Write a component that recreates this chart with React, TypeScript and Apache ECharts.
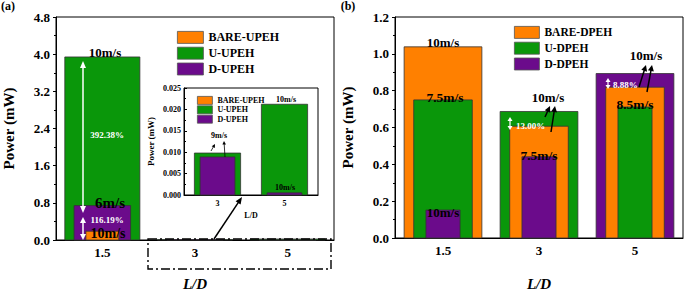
import React, { useEffect, useRef } from 'react';
import * as echarts from 'echarts';

// ---------- data ----------
const categories = ['1.5', '3', '5'];
const insetCategories = ['3', '5'];
const bareUPEH = [0.19, 0, 0];
const uUPEH = [3.94, 0.0098, 0.0212];
const dUPEH = [0.74, 0.0089, 0.0005];
const bareDPEH = [1.038, 0.607, 0.819];
const uDPEH = [0.75, 0.687, 0.711];
const dDPEH = [0.152, 0.441, 0.893];
const insetBare = bareUPEH.slice(1);
const insetU = uUPEH.slice(1);
const insetD = dUPEH.slice(1);

// ---------- styles ----------
const FONT = '"Liberation Serif", "Times New Roman", serif';
const ORANGE = '#FF8000';
const GREEN = '#0A970A';
const PURPLE = '#6B0B8B';
const EDGE = '#333';

function rankOf(groups: number[][], s: number, i: number) {
  const v = groups[s][i];
  let r = 0;
  groups.forEach((g, k) => {
    if (k !== s && (g[i] > v || (g[i] === v && k < s))) r++;
  });
  return r;
}

function makeBar(name: string, color: string, groups: number[][], s: number, axis: number, widths: number[]) {
  return {
    type: 'custom',
    name,
    xAxisIndex: axis,
    yAxisIndex: axis,
    itemStyle: { color, borderColor: EDGE, borderWidth: 0.8 },
    data: groups[s].map((v, i) => [i, v]),
    encode: { x: 0, y: 1 },
    renderItem: (params: any, api: any) => {
      const i = params.dataIndex;
      const v = api.value(1);
      if (!(v > 0)) return null;
      const r = rankOf(groups, s, i);
      const base = api.coord([i, 0]);
      const top = api.coord([i, v]);
      const band = api.size([1, 0])[0];
      const w = band * widths[r];
      return {
        type: 'rect',
        z2: r,
        shape: { x: base[0] - w / 2, y: top[1], width: w, height: base[1] - top[1] },
        style: { fill: color, stroke: EDGE, lineWidth: 0.8 },
      };
    },
  };
}

function txt(text: string, x: number, y: number, size: number, color = '#000', align = 'center') {
  return {
    type: 'text',
    x,
    y,
    z: 100,
    style: {
      text,
      fill: color,
      fontSize: size,
      fontWeight: 'bold',
      fontFamily: FONT,
      align,
      verticalAlign: 'middle',
      textAlign: align,
      textVerticalAlign: 'middle',
    },
  };
}

function head(x1: number, y1: number, x2: number, y2: number, len: number, hw: number, color: string) {
  const dx = x2 - x1;
  const dy = y2 - y1;
  const d = Math.sqrt(dx * dx + dy * dy);
  const ux = dx / d;
  const uy = dy / d;
  const bx = x2 - ux * len;
  const by = y2 - uy * len;
  return {
    type: 'polygon',
    z: 100,
    shape: { points: [[x2, y2], [bx - uy * hw, by + ux * hw], [bx + uy * hw, by - ux * hw]] },
    style: { fill: color },
  };
}

function arrow(x1: number, y1: number, x2: number, y2: number, color: string, lw: number, len: number, hw: number, both = false) {
  const dx = x2 - x1;
  const dy = y2 - y1;
  const d = Math.sqrt(dx * dx + dy * dy);
  const sx = both ? x1 + (dx / d) * len * 0.8 : x1;
  const sy = both ? y1 + (dy / d) * len * 0.8 : y1;
  const ex = x2 - (dx / d) * len * 0.8;
  const ey = y2 - (dy / d) * len * 0.8;
  const els: any[] = [
    { type: 'line', z: 100, shape: { x1: sx, y1: sy, x2: ex, y2: ey }, style: { stroke: color, lineWidth: lw } },
    head(x1, y1, x2, y2, len, hw, color),
  ];
  if (both) els.push(head(x2, y2, x1, y1, len, hw, color));
  return { type: 'group', children: els };
}

function xAxisBase(gridIndex: number, data: string[], size: number, margin: number, name: string, nameGap: number, nameSize: number, italic: boolean) {
  return {
    type: 'category',
    gridIndex,
    data,
    axisLine: { lineStyle: { color: '#000', width: 1 } },
    axisTick: { inside: true, alignWithLabel: true, length: 4, lineStyle: { color: '#000' } },
    axisLabel: { color: '#000', fontSize: size, fontWeight: 'bold', fontFamily: FONT, margin },
    name,
    nameLocation: 'middle',
    nameGap,
    nameTextStyle: { color: '#000', fontSize: nameSize, fontWeight: 'bold', fontStyle: italic ? 'italic' : 'normal', fontFamily: FONT },
    splitLine: { show: false },
  };
}

function yAxisBase(gridIndex: number, max: number, interval: number, digits: number, size: number, margin: number, nameGap: number, nameSize: number, inside: boolean) {
  return {
    type: 'value',
    gridIndex,
    min: 0,
    max,
    interval,
    axisLine: { show: true, lineStyle: { color: '#000', width: 1 } },
    axisTick: { show: true, inside, length: 3, lineStyle: { color: '#000' } },
    minorTick: { show: true, splitNumber: 2, length: 2, lineStyle: { color: '#000' } },
    splitLine: { show: false },
    axisLabel: {
      color: '#000',
      fontSize: size,
      fontWeight: 'bold',
      fontFamily: FONT,
      margin,
      formatter: (v: number) => v.toFixed(digits),
    },
    name: 'Power (mW)',
    nameLocation: 'middle',
    nameGap,
    nameTextStyle: { color: '#000', fontSize: nameSize, fontWeight: 'bold', fontFamily: FONT },
  };
}

function legend(names: string[], left: number, top: number, w: number, h: number, gap: number, size: number) {
  return {
    data: names,
    orient: 'vertical',
    left,
    top,
    padding: 0,
    itemWidth: w,
    itemHeight: h,
    itemGap: gap,
    icon: 'rect',
    selectedMode: false,
    itemStyle: { borderColor: '#555', borderWidth: 0.8 },
    textStyle: { color: '#000', fontSize: size, fontWeight: 'bold', fontFamily: FONT, lineHeight: h, padding: [0, 0, 0, 0] },
  };
}

export default function App() {
  const ref = useRef<HTMLDivElement>(null);
  useEffect(() => {
    if (!ref.current) return;
    const chart = echarts.init(ref.current, undefined, { renderer: 'svg' });
    const gA = [bareUPEH, uUPEH, dUPEH];
    const gI = [insetBare, insetU, insetD];
    const gB = [bareDPEH, uDPEH, dDPEH];
    const wMain = [0.81, 0.61, 0.355];
    const wInset = [0.69, 0.52, 0.35];
    const option: any = {
      animation: false,
      backgroundColor: '#fff',
      grid: [
        { left: 49, top: 17, width: 285, height: 234, show: true, borderColor: '#000', borderWidth: 1, backgroundColor: 'transparent' },
        { left: 184, top: 88, width: 134, height: 107, show: true, borderColor: '#000', borderWidth: 1, backgroundColor: '#fff' },
        { left: 395, top: 17, width: 288, height: 233, show: true, borderColor: '#000', borderWidth: 1, backgroundColor: 'transparent' },
      ],
      xAxis: [
        xAxisBase(0, categories, 13, 6, 'L/D', 36, 15, true),
        xAxisBase(1, insetCategories, 8, 4, 'L/D', 16, 8, false),
        xAxisBase(2, categories, 13, 6, 'L/D', 38, 15, true),
      ],
      yAxis: [
        yAxisBase(0, 4.8, 0.8, 1, 13, 6, 40, 15, false),
        yAxisBase(1, 0.025, 0.005, 3, 8, 3, 29, 9, true),
        yAxisBase(2, 1.2, 0.2, 1, 13, 6, 40, 15, false),
      ],
      legend: [
        legend(['BARE-UPEH', 'U-UPEH', 'D-UPEH'], 177, 31, 26, 12, 3, 12),
        legend(['BARE-UPEH', 'U-UPEH', 'D-UPEH'], 197, 96, 15, 8, 0.6, 8),
        legend(['BARE-DPEH', 'U-DPEH', 'D-DPEH'], 514, 26, 25, 12, 3, 11.5),
      ],
      series: [
        makeBar('BARE-UPEH', ORANGE, gA, 0, 0, wMain),
        makeBar('U-UPEH', GREEN, gA, 1, 0, wMain),
        makeBar('D-UPEH', PURPLE, gA, 2, 0, wMain),
        makeBar('BARE-UPEH', ORANGE, gI, 0, 1, wInset),
        makeBar('U-UPEH', GREEN, gI, 1, 1, wInset),
        makeBar('D-UPEH', PURPLE, gI, 2, 1, wInset),
        makeBar('BARE-DPEH', ORANGE, gB, 0, 2, wMain),
        makeBar('U-DPEH', GREEN, gB, 1, 2, wMain),
        makeBar('D-DPEH', PURPLE, gB, 2, 2, wMain),
      ],
      graphic: [
        txt('(a)', 8, 6, 12),
        txt('(b)', 348, 6, 12),
        // panel (a)
        txt('10m/s', 105, 52, 13),
        arrow(83, 61, 83, 213, '#fff', 1.5, 7, 3, true),
        txt('392.38%', 107, 135, 9, '#fff'),
        txt('6m/s', 110, 203, 15),
        arrow(83, 217, 83, 240, '#fff', 1.5, 6, 3, true),
        txt('116.19%', 107, 220, 9, '#fff'),
        txt('10m/s', 108, 233, 14),
        {
          type: 'rect',
          z: 100,
          shape: { x: 148, y: 239, width: 183, height: 30 },
          style: { fill: 'none', stroke: '#000', lineWidth: 1.4, lineDash: [9, 3, 2, 3] },
        },
        arrow(214, 239, 242, 197, '#000', 1.5, 7, 3),
        // inset
        txt('9m/s', 219, 135, 8),
        arrow(211, 151, 215, 144, '#000', 0.8, 3.5, 1.8),
        arrow(225, 157, 224, 141, '#000', 0.8, 3.5, 1.8),
        txt('10m/s', 286, 99, 8),
        txt('10m/s', 285, 187, 8),
        // panel (b)
        txt('10m/s', 443, 42, 13),
        txt('7.5m/s', 445, 97, 13.5),
        txt('10m/s', 443, 212, 13),
        txt('10m/s', 548, 97, 13),
        arrow(545, 117, 550, 106, '#000', 1.5, 6, 3),
        arrow(551, 132, 555, 106, '#000', 1.5, 6, 3),
        arrow(510, 117, 510, 130, '#fff', 1.2, 4, 2.5, true),
        txt('13.00%', 516, 126, 9, '#fff', 'left'),
        txt('7.5m/s', 539, 155, 13.5),
        txt('10m/s', 646, 55, 13),
        arrow(639, 87, 646, 65, '#000', 1.5, 6, 3),
        arrow(647, 92, 652, 65, '#000', 1.5, 6, 3),
        arrow(608, 78, 608, 89, '#fff', 1.2, 4, 2.5, true),
        txt('8.88%', 613, 85, 9, '#fff', 'left'),
        txt('8.5m/s', 635, 104, 13.5),
      ],
    };
    chart.setOption(option);
    return () => chart.dispose();
  }, []);
  return <div ref={ref} style={{ position: 'absolute', left: 0, top: 0, width: 685, height: 296 }} />;
}
